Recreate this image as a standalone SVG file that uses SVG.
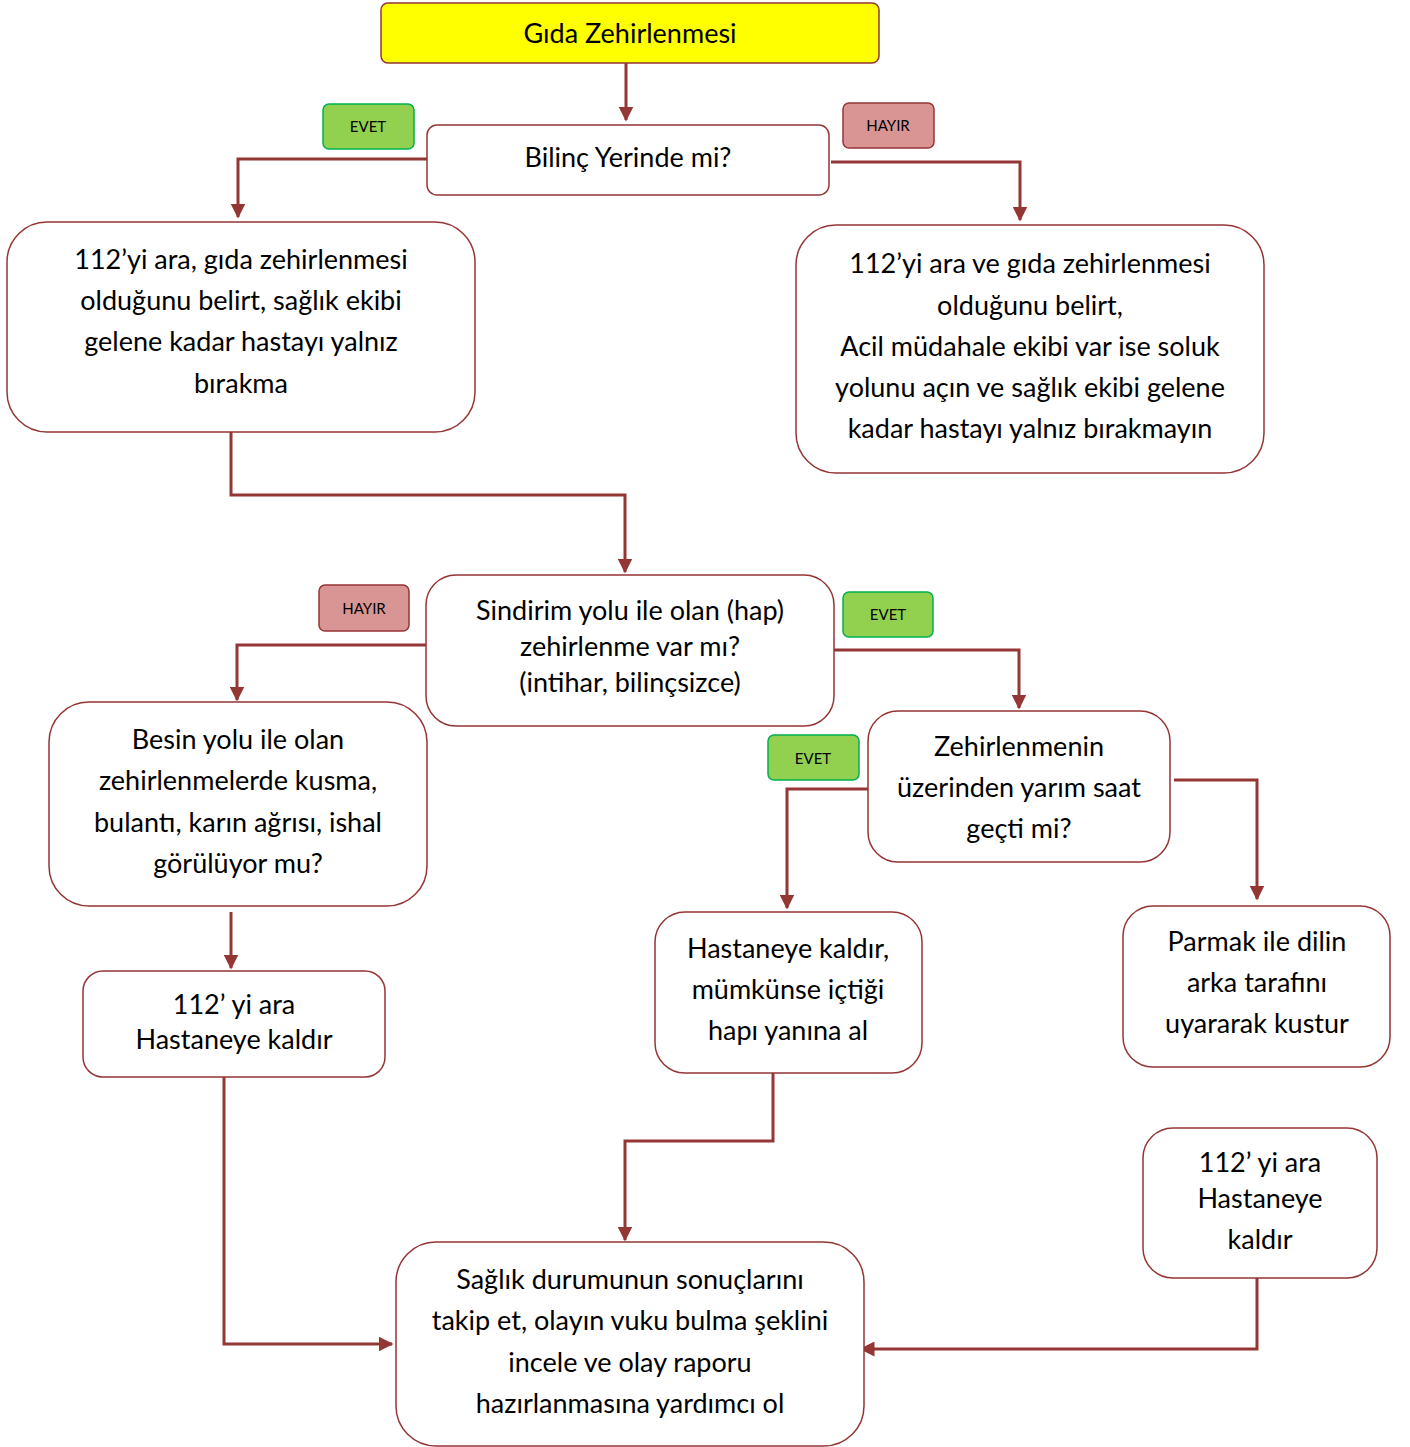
<svg xmlns="http://www.w3.org/2000/svg" width="1410" height="1447" viewBox="0 0 1410 1447">
<defs>
<marker id="ah" viewBox="0 0 10 10" refX="9" refY="5" markerWidth="5" markerHeight="5" markerUnits="strokeWidth" orient="auto">
<path d="M0,0 L10,5 L0,10 z" fill="#943634"/>
</marker>
<style>
.box{fill:#fff;stroke:#943634;stroke-width:1.5}
.t{font-family:Lato,"Liberation Sans",sans-serif;font-size:27px;fill:#000;text-anchor:middle}
.b{font-family:Lato,"Liberation Sans",sans-serif;font-size:15px;fill:#000;text-anchor:middle}
.yes{fill:#92D050;stroke:#00B050;stroke-width:1.5}
.no{fill:#D99594;stroke:#943634;stroke-width:1.5}
.c{fill:none;stroke:#943634;stroke-width:3;marker-end:url(#ah)}
</style>
</defs>
<g id="connectors">
<path class="c" d="M626,63 V120"/>
<path class="c" d="M427,159 H238 V217"/>
<path class="c" d="M831,162 H1020 V220"/>
<path class="c" d="M231,428 V495 H625 V572"/>
<path class="c" d="M426,645 H237 V700"/>
<path class="c" d="M831,650 H1019 V708"/>
<path class="c" d="M869,789 H787 V908"/>
<path class="c" d="M1174,780 H1257 V899"/>
<path class="c" d="M231,912 V968"/>
<path class="c" d="M224,1076 V1344 H392"/>
<path class="c" d="M773,1068 V1141 H625 V1240"/>
<path class="c" d="M1260,1275 H1257 V1349 H861"/>
</g>
<g id="n-title">
<rect x="381" y="3" width="498" height="60" rx="7" fill="#FFFF00" stroke="#943634" stroke-width="1.5"/>
<text class="t" x="630" y="43">Gıda Zehirlenmesi</text>
</g>
<g id="n-bilinc">
<rect class="box" x="427" y="125" width="402" height="70" rx="10"/>
<text class="t" x="628" y="167">Bilinç Yerinde mi?</text>
</g>
<g id="b-evet1"><rect class="yes" x="323" y="104" width="91" height="45" rx="6"/><text class="b" x="368" y="132">EVET</text></g>
<g id="b-hayir1"><rect class="no" x="843" y="103" width="91" height="45" rx="6"/><text class="b" x="888" y="131">HAYIR</text></g>
<g id="n-left1">
<rect class="box" x="7" y="222" width="468" height="210" rx="40"/>
<text class="t" x="241" y="269">112’yi ara, gıda zehirlenmesi</text>
<text class="t" x="241" y="310">olduğunu belirt, sağlık ekibi</text>
<text class="t" x="241" y="351">gelene kadar hastayı yalnız</text>
<text class="t" x="241" y="393">bırakma</text>
</g>
<g id="n-right1">
<rect class="box" x="796" y="225" width="468" height="248" rx="40"/>
<text class="t" x="1030" y="273">112’yi ara ve gıda zehirlenmesi</text>
<text class="t" x="1030" y="315">olduğunu belirt,</text>
<text class="t" x="1030" y="356">Acil müdahale ekibi var ise soluk</text>
<text class="t" x="1030" y="397">yolunu açın ve sağlık ekibi gelene</text>
<text class="t" x="1030" y="438">kadar hastayı yalnız bırakmayın</text>
</g>
<g id="n-sindirim">
<rect class="box" x="426" y="575" width="408" height="151" rx="30"/>
<text class="t" x="630" y="620">Sindirim yolu ile olan (hap)</text>
<text class="t" x="630" y="656">zehirlenme var mı?</text>
<text class="t" x="630" y="692">(intihar, bilinçsizce)</text>
</g>
<g id="b-hayir2"><rect class="no" x="319" y="585" width="90" height="46" rx="6"/><text class="b" x="364" y="614">HAYIR</text></g>
<g id="b-evet2"><rect class="yes" x="843" y="592" width="90" height="45" rx="6"/><text class="b" x="888" y="620">EVET</text></g>
<g id="n-besin">
<rect class="box" x="49" y="702" width="378" height="204" rx="40"/>
<text class="t" x="238" y="749">Besin yolu ile olan</text>
<text class="t" x="238" y="790">zehirlenmelerde kusma,</text>
<text class="t" x="238" y="832">bulantı, karın ağrısı, ishal</text>
<text class="t" x="238" y="873">görülüyor mu?</text>
</g>
<g id="n-zehir">
<rect class="box" x="868" y="711" width="302" height="151" rx="30"/>
<text class="t" x="1019" y="756">Zehirlenmenin</text>
<text class="t" x="1019" y="797">üzerinden yarım saat</text>
<text class="t" x="1019" y="838">geçti mi?</text>
</g>
<g id="b-evet3"><rect class="yes" x="768" y="735" width="91" height="45" rx="6"/><text class="b" x="813" y="764">EVET</text></g>
<g id="n-112a">
<rect class="box" x="83" y="971" width="302" height="106" rx="20"/>
<text class="t" x="234" y="1014">112’ yi ara</text>
<text class="t" x="234" y="1049">Hastaneye kaldır</text>
</g>
<g id="n-hastane">
<rect class="box" x="655" y="912" width="267" height="161" rx="30"/>
<text class="t" x="788" y="958">Hastaneye kaldır,</text>
<text class="t" x="788" y="999">mümkünse içtiği</text>
<text class="t" x="788" y="1040">hapı yanına al</text>
</g>
<g id="n-parmak">
<rect class="box" x="1123" y="906" width="267" height="161" rx="30"/>
<text class="t" x="1257" y="951">Parmak ile dilin</text>
<text class="t" x="1257" y="992">arka tarafını</text>
<text class="t" x="1257" y="1033">uyararak kustur</text>
</g>
<g id="n-112b">
<rect class="box" x="1143" y="1128" width="234" height="150" rx="30"/>
<text class="t" x="1260" y="1172">112’ yi ara</text>
<text class="t" x="1260" y="1208">Hastaneye</text>
<text class="t" x="1260" y="1249">kaldır</text>
</g>
<g id="n-saglik">
<rect class="box" x="396" y="1242" width="468" height="204" rx="40"/>
<text class="t" x="630" y="1289">Sağlık durumunun sonuçlarını</text>
<text class="t" x="630" y="1330">takip et, olayın vuku bulma şeklini</text>
<text class="t" x="630" y="1372">incele ve olay raporu</text>
<text class="t" x="630" y="1413">hazırlanmasına yardımcı ol</text>
</g>
</svg>
